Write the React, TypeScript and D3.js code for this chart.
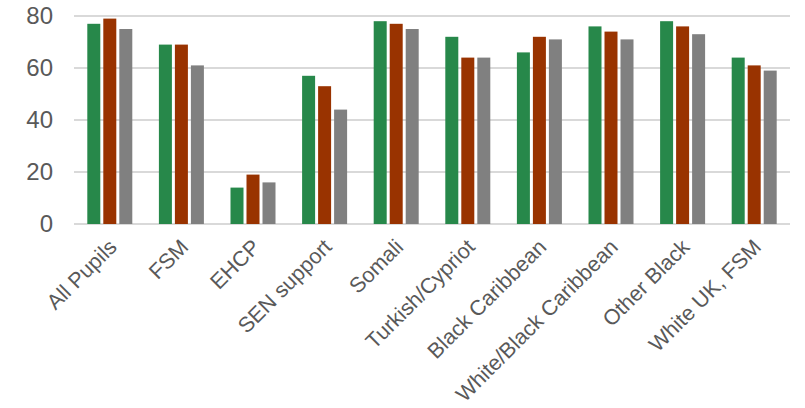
import React from "react";
import * as d3 from "d3";

const categories = [
  "All Pupils",
  "FSM",
  "EHCP",
  "SEN support",
  "Somali",
  "Turkish/Cypriot",
  "Black Caribbean",
  "White/Black Caribbean",
  "Other Black",
  "White UK, FSM",
];

const seriesGreen = [77, 69, 14, 57, 78, 72, 66, 76, 78, 64];
const seriesBrown = [79, 69, 19, 53, 77, 64, 72, 74, 76, 61];
const seriesGray = [75, 61, 16, 44, 75, 64, 71, 71, 73, 59];

const yTicks = [0, 20, 40, 60, 80];

const seriesColors = ["#27884A", "#993300", "#808080"];

const W = 805;
const H = 408;
const margin = { left: 74, right: 15, top: 16, bottom: 184 };

export default function App() {
  const series = [seriesGreen, seriesBrown, seriesGray];
  const x = d3
    .scaleBand<string>()
    .domain(categories)
    .range([margin.left, W - margin.right]);
  const y = d3
    .scaleLinear()
    .domain([0, 80])
    .range([H - margin.bottom, margin.top]);

  const barW = 13;
  const step = 16;
  const groupW = step * 2 + barW;

  const font = "Arial, 'Liberation Sans', sans-serif";

  return (
    <div style={{ position: "absolute", left: 0, top: 0 }}>
      <svg width={W} height={H} style={{ display: "block", background: "#fff" }}>
        {yTicks.map((t) => (
          <g key={t}>
            <line
              x1={margin.left}
              x2={W - margin.right}
              y1={y(t)}
              y2={y(t)}
              stroke="#D9D9D9"
              strokeWidth={2}
            />
            <text
              x={53}
              y={y(t)}
              dy="0.35em"
              textAnchor="end"
              fontFamily={font}
              fontSize={24}
              fill="#595959"
            >
              {t}
            </text>
          </g>
        ))}
        {categories.map((c, i) => {
          const cx = (x(c) ?? 0) + x.bandwidth() / 2;
          return (
            <g key={c}>
              {series.map((s, j) => (
                <rect
                  key={j}
                  x={cx - groupW / 2 + j * step}
                  y={y(s[i])}
                  width={barW}
                  height={y(0) - y(s[i])}
                  fill={seriesColors[j]}
                />
              ))}
              <text
                transform={`translate(${cx + 3},${y(0) + 19}) rotate(-45)`}
                textAnchor="end"
                dy="0.35em"
                fontFamily={font}
                fontSize={21.5}
                fill="#595959"
              >
                {c}
              </text>
            </g>
          );
        })}
      </svg>
    </div>
  );
}
